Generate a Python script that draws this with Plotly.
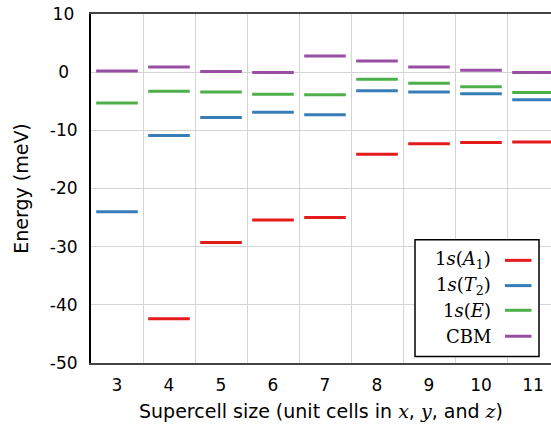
import plotly.graph_objects as go

sizes = [3, 4, 5, 6, 7, 8, 9, 10, 11]
e_a1 = [None, -42.4, -29.3, -25.4, -25.0, -14.1, -12.3, -12.1, -12.0]
e_t2 = [-24.0, -10.9, -7.8, -6.9, -7.3, -3.2, -3.4, -3.7, -4.75]
e_e = [-5.3, -3.3, -3.4, -3.8, -3.9, -1.2, -1.9, -2.5, -3.5]
e_cbm = [0.2, 0.9, 0.1, -0.05, 2.8, 1.9, 0.9, 0.35, -0.05]

series = [
    ("1<i>s</i>(<i>A</i><sub>1</sub>)", e_a1, "#e41a1c"),
    ("1<i>s</i>(<i>T</i><sub>2</sub>)", e_t2, "#377eb8"),
    ("1<i>s</i>(<i>E</i>)", e_e, "#4daf4a"),
    ("CBM", e_cbm, "#984ea3"),
]

y_ticks = [10, 0, -10, -20, -30, -40, -50]
y_ticktext = ["10\u2009", "0\u2002", "-10", "-20", "-30", "-40", "-50"]

HALF = 0.4
SANS = "'DejaVu Sans', sans-serif"
SERIF = "'DejaVu Serif', serif"

fig = go.Figure()
for name, vals, color in series:
    xs, ys = [], []
    for c, v in zip(sizes, vals):
        if v is None:
            continue
        xs += [c - HALF, c + HALF, None]
        ys += [v, v, None]
    fig.add_trace(go.Scatter(x=xs, y=ys, mode="lines", name=name,
                             line=dict(color=color, width=3),
                             showlegend=False, hoverinfo="skip"))

W, H = 551, 437
L, R, T, B = 91, 0, 14, 73.5
pw, ph = W - L - R, H - T - B


def px(x):
    return (x - L) / pw


def py(y):
    return (H - B - y) / ph


shapes = [dict(type="rect", xref="paper", yref="paper",
               x0=px(415), x1=px(539), y0=py(357), y1=py(240),
               line=dict(color="black", width=1.5), fillcolor="white", layer="above")]
annotations = []
entry_y = [260.7, 286, 310.7, 336.7]
for (name, vals, color), ey in zip(series, entry_y):
    annotations.append(dict(xref="paper", yref="paper", x=px(493), y=py(ey),
                            text=name, showarrow=False, xanchor="right", yanchor="middle",
                            font=dict(family=SERIF, size=18, color="black")))
    shapes.append(dict(type="line", xref="paper", yref="paper",
                       x0=px(505), x1=px(531.5), y0=py(ey), y1=py(ey),
                       line=dict(color=color, width=3), layer="above"))

fig.update_layout(
    width=W, height=H,
    margin=dict(l=L, r=R, t=T, b=B, pad=0, autoexpand=False),
    plot_bgcolor="white", paper_bgcolor="white",
    font=dict(family=SANS, size=17, color="black"),
    shapes=shapes, annotations=annotations,
    xaxis=dict(
        range=[2.5, 2.5 + pw / 52.0],
        automargin=False,
        tickmode="array", tickvals=sizes, ticktext=[str(s) for s in sizes],
        showgrid=False, zeroline=False, ticks="",
        showline=True, linecolor="#444", linewidth=2, mirror=True,
        minor=dict(tickmode="linear", tick0=2.5, dtick=1, showgrid=True,
                   gridcolor="#d4d4d4", gridwidth=1, ticks=""),
        tickfont=dict(size=17),
        ticklabelstandoff=6,
        title=dict(text="Supercell size (unit cells in <span style='font-family:DejaVu Serif'><i>x</i></span>, "
                        "<span style='font-family:DejaVu Serif'><i>y</i></span>, and "
                        "<span style='font-family:DejaVu Serif'><i>z</i></span>)",
                   font=dict(size=19), standoff=10),
    ),
    yaxis=dict(
        range=[-50, 10],
        automargin=False,
        tickmode="array", tickvals=y_ticks, ticktext=y_ticktext,
        showgrid=True, gridcolor="#d4d4d4", gridwidth=1, zeroline=False, ticks="",
        showline=True, linecolor="black", linewidth=2,
        ticklabelstandoff=8,
        tickfont=dict(size=17),
        title=dict(text="Energy (meV)", font=dict(size=19), standoff=16),
    ),
)

fig.write_html("out.html", config={"displayModeBar": False},
               post_script="document.body.style.margin='0';")
